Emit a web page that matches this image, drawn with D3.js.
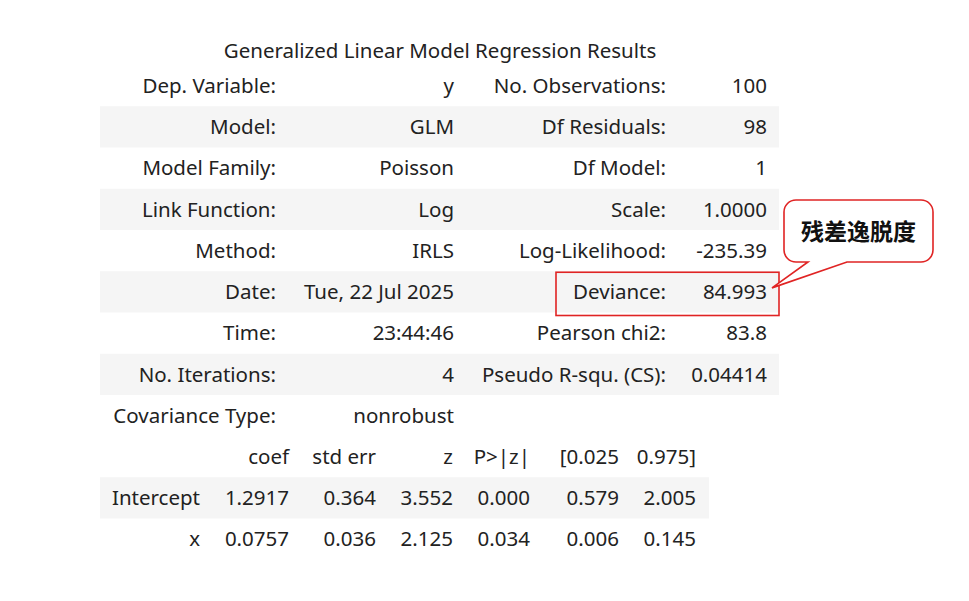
<!doctype html>
<html lang="en">
  <head>
    <meta charset="utf-8">
    <title>GLM Regression Results</title>
    <style>
      body { margin: 0; background: #fff; }
      text { font-family: "Noto Sans", "Open Sans", sans-serif; fill: #222; }
      .stripe { fill: #f5f5f5; }
    </style>
  </head>
  <body>
    <div id="chart"></div>
    <script src="https://d3js.org/d3.v7.min.js"></script>
    <script type="text/javascript">
      // summary table (two label/value pairs per row)
      const leftLabels = ['Dep. Variable:', 'Model:', 'Model Family:', 'Link Function:', 'Method:',
                          'Date:', 'Time:', 'No. Iterations:', 'Covariance Type:'];
      const leftValues = ['y', 'GLM', 'Poisson', 'Log', 'IRLS',
                          'Tue, 22 Jul 2025', '23:44:46', '4', 'nonrobust'];
      const rightLabels = ['No. Observations:', 'Df Residuals:', 'Df Model:', 'Scale:', 'Log-Likelihood:',
                           'Deviance:', 'Pearson chi2:', 'Pseudo R-squ. (CS):', ''];
      const rightValues = ['100', '98', '1', '1.0000', '-235.39',
                           '84.993', '83.8', '0.04414', ''];

      // coefficient table
      const coefHeaders = ['', 'coef', 'std err', 'z', 'P>|z|', '[0.025', '0.975]'];
      const params = ['Intercept', 'x'];
      const coef = ['1.2917', '0.0757'];
      const stdErr = ['0.364', '0.036'];
      const zVals = ['3.552', '2.125'];
      const pVals = ['0.000', '0.034'];
      const ciLow = ['0.579', '0.006'];
      const ciHigh = ['2.005', '0.145'];

      const title = 'Generalized Linear Model Regression Results';
      const callout = '残差逸脱度';
      const highlightRow = 'Deviance:';

      const w = 969, h = 601;
      const svg = d3.select('#chart').append('svg')
        .attr('width', w)
        .attr('height', h);

      const rowH = 41.25;
      const fs = 20.5;

      // top table
      const y1 = d3.scaleBand()
        .domain(d3.range(leftLabels.length))
        .range([65, 65 + rowH * leftLabels.length]);
      const col1 = [276, 454, 666, 767];

      const gTop = svg.append('g');
      gTop.selectAll('.stripe')
        .data(d3.range(leftLabels.length - 1).filter(i => i % 2 === 1))
        .enter().append('rect')
        .attr('class', 'stripe')
        .attr('x', 100)
        .attr('width', 679)
        .attr('y', i => y1(i))
        .attr('height', y1.bandwidth());

      const cols1 = [leftLabels, leftValues, rightLabels, rightValues];
      cols1.forEach((col, c) => {
        gTop.selectAll('.c' + c)
          .data(col)
          .enter().append('text')
          .attr('x', col1[c])
          .attr('y', (d, i) => y1(i) + y1.bandwidth() / 2)
          .attr('dy', '0.35em')
          .attr('text-anchor', 'end')
          .attr('font-size', fs)
          .text(d => d);
      });

      svg.append('text')
        .attr('x', 440)
        .attr('y', 51)
        .attr('dy', '0.35em')
        .attr('text-anchor', 'middle')
        .attr('font-size', fs)
        .text(title);

      // coefficient table
      const rows2 = params.map((p, i) => [p, coef[i], stdErr[i], zVals[i], pVals[i], ciLow[i], ciHigh[i]]);
      const y2 = d3.scaleBand()
        .domain(d3.range(rows2.length + 1))
        .range([436, 436 + rowH * (rows2.length + 1)]);
      const col2 = [200, 289, 376, 453, 530, 619, 696];

      const gBot = svg.append('g');
      gBot.selectAll('.stripe')
        .data(d3.range(rows2.length).filter(i => i % 2 === 0))
        .enter().append('rect')
        .attr('class', 'stripe')
        .attr('x', 100)
        .attr('width', 609)
        .attr('y', i => y2(i + 1))
        .attr('height', y2.bandwidth());

      gBot.selectAll('.hdr')
        .data(coefHeaders)
        .enter().append('text')
        .attr('x', (d, i) => col2[i])
        .attr('y', y2(0) + y2.bandwidth() / 2)
        .attr('dy', '0.35em')
        .attr('text-anchor', 'end')
        .attr('font-size', fs)
        .text(d => d);

      rows2.forEach((r, ri) => {
        gBot.selectAll('.r' + ri)
          .data(r)
          .enter().append('text')
          .attr('x', (d, i) => col2[i])
          .attr('y', y2(ri + 1) + y2.bandwidth() / 2)
          .attr('dy', '0.35em')
          .attr('text-anchor', 'end')
          .attr('font-size', fs)
          .text(d => d);
      });

      // highlight box + callout
      const hi = rightLabels.indexOf(highlightRow);
      svg.append('rect')
        .attr('x', 556)
        .attr('y', y1(hi) + 1)
        .attr('width', 223)
        .attr('height', y1.bandwidth() + 2)
        .attr('fill', 'none')
        .attr('stroke', '#e02424')
        .attr('stroke-width', 1.6);

      const bx = 784, by = 200, bw = 149, bh = 62, r = 12;
      const tipX = 772, tipY = y1(hi) + y1.bandwidth() / 2 - 4;
      const p = d3.path();
      p.moveTo(bx + r, by);
      p.lineTo(bx + bw - r, by);
      p.arcTo(bx + bw, by, bx + bw, by + r, r);
      p.lineTo(bx + bw, by + bh - r);
      p.arcTo(bx + bw, by + bh, bx + bw - r, by + bh, r);
      p.lineTo(847, by + bh);
      p.lineTo(tipX, tipY);
      p.lineTo(808, by + bh);
      p.lineTo(bx + r, by + bh);
      p.arcTo(bx, by + bh, bx, by + bh - r, r);
      p.lineTo(bx, by + r);
      p.arcTo(bx, by, bx + r, by, r);
      p.closePath();
      svg.append('path')
        .attr('d', p.toString())
        .attr('fill', '#fff')
        .attr('stroke', '#e02424')
        .attr('stroke-width', 1.6);

      svg.append('text')
        .attr('x', bx + bw / 2)
        .attr('y', by + 32)
        .attr('dy', '0.35em')
        .attr('text-anchor', 'middle')
        .attr('font-size', 23)
        .attr('font-weight', 'bold')
        .style('font-family', '"Noto Sans CJK SC", sans-serif')
        .style('fill', '#111')
        .text(callout);
    </script>
  </body>
</html>
